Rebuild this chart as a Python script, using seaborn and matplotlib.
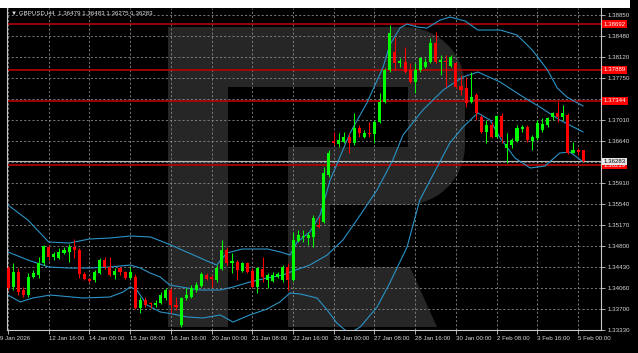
import numpy as np
import pandas as pd
import matplotlib
matplotlib.use("Agg")
import matplotlib.pyplot as plt
import matplotlib.transforms as mtransforms
from matplotlib.patches import Polygon, Rectangle
import seaborn as sns

# --------------------------
# GBPUSD H4 candles (oldest first)
# --------------------------
opens = [1.34416, 1.34083, 1.34346, 1.34031, 1.33943, 1.34259, 1.34294, 1.34504, 1.34784, 1.34609,
         1.34592, 1.34679, 1.34697, 1.34784, 1.34732, 1.34311, 1.34224, 1.34206, 1.34329, 1.34557,
         1.34434, 1.34294, 1.34416, 1.34346, 1.34241, 1.34259, 1.33716, 1.33856, 1.33803, 1.33768,
         1.33803, 1.33891, 1.34031, 1.33768, 1.33418, 1.33891, 1.33908, 1.34031, 1.34101, 1.34294,
         1.34259, 1.34206, 1.34399, 1.34732, 1.34504, 1.34521, 1.34364, 1.34504, 1.34364, 1.34083,
         1.34399, 1.34206, 1.34188, 1.34259, 1.34206, 1.34434, 1.34206, 1.34889, 1.34960, 1.34942,
         1.34960, 1.35170, 1.35223, 1.36046, 1.36642, 1.36589, 1.36624, 1.36712, 1.36607, 1.36870,
         1.36712, 1.36782, 1.36765, 1.36975, 1.37325, 1.37886, 1.38202, 1.38009, 1.38026, 1.37886,
         1.37676, 1.37886, 1.37939, 1.38026, 1.38359, 1.38026, 1.38044, 1.37956, 1.38009, 1.37606,
         1.37571, 1.37325, 1.37448, 1.37063, 1.36800, 1.36922, 1.36712, 1.37080, 1.36519, 1.36572,
         1.36642, 1.36852, 1.36887, 1.36642, 1.36694, 1.36835, 1.36922, 1.37063, 1.37133, 1.37063,
         1.37098, 1.36432, 1.36484, 1.36479]
highs = [1.34451, 1.34504, 1.34416, 1.34083, 1.34329, 1.34381, 1.34609, 1.34819, 1.34819, 1.34697,
         1.34767, 1.34784, 1.34837, 1.34925, 1.34767, 1.34346, 1.34241, 1.34381, 1.34592, 1.34609,
         1.34609, 1.34416, 1.34434, 1.34364, 1.34434, 1.34311, 1.33908, 1.33908, 1.33821, 1.33856,
         1.33996, 1.34066, 1.34066, 1.33908, 1.33908, 1.34066, 1.34118, 1.34171, 1.34346, 1.34329,
         1.34294, 1.34469, 1.34907, 1.34784, 1.34679, 1.34557, 1.34521, 1.34521, 1.34416, 1.34434,
         1.34609, 1.34329, 1.34346, 1.34346, 1.34469, 1.34504, 1.35047, 1.35083, 1.35083, 1.35047,
         1.35345, 1.35310, 1.36186, 1.36484, 1.36800, 1.36782, 1.36800, 1.36782, 1.37133, 1.36922,
         1.36835, 1.36975, 1.37010, 1.37483, 1.37921, 1.38675, 1.38464, 1.38096, 1.38289, 1.38009,
         1.38009, 1.38114, 1.38096, 1.38447, 1.38552, 1.38149, 1.38149, 1.38149, 1.38026, 1.37799,
         1.37764, 1.37851, 1.37483, 1.37098, 1.37010, 1.36975, 1.37098, 1.37133, 1.36782, 1.36694,
         1.36922, 1.36922, 1.36922, 1.36747, 1.37010, 1.37045, 1.37063, 1.37150, 1.37325, 1.37273,
         1.37133, 1.36624, 1.36519, 1.36483]
lows = [1.34031, 1.34031, 1.33943, 1.33908, 1.33908, 1.34241, 1.34241, 1.34469, 1.34557, 1.34557,
        1.34574, 1.34662, 1.34521, 1.34592, 1.34241, 1.34206, 1.34171, 1.34171, 1.34311, 1.34399,
        1.34276, 1.34224, 1.34294, 1.34224, 1.34224, 1.33698, 1.33628, 1.33733, 1.33716, 1.33733,
        1.33786, 1.33856, 1.33628, 1.33681, 1.33383, 1.33856, 1.33891, 1.33996, 1.34083, 1.34206,
        1.34083, 1.34171, 1.34381, 1.34469, 1.34329, 1.34206, 1.34346, 1.34329, 1.34066, 1.33978,
        1.34171, 1.34066, 1.34171, 1.34241, 1.34171, 1.34031, 1.34188, 1.34872, 1.34872, 1.34819,
        1.34784, 1.35118, 1.35205, 1.36011, 1.36572, 1.36537, 1.36607, 1.36432, 1.36572, 1.36712,
        1.36694, 1.36712, 1.36607, 1.36957, 1.37308, 1.37851, 1.37886, 1.37939, 1.37834, 1.37658,
        1.37483, 1.37851, 1.37921, 1.38009, 1.38009, 1.37799, 1.37588, 1.37939, 1.37571, 1.37448,
        1.37238, 1.37308, 1.37010, 1.36782, 1.36607, 1.36694, 1.36694, 1.36607, 1.36256, 1.36519,
        1.36624, 1.36800, 1.36624, 1.36484, 1.36659, 1.36800, 1.36887, 1.37010, 1.36975, 1.37010,
        1.36414, 1.36432, 1.36397, 1.36275]
closes = [1.34066, 1.34346, 1.33996, 1.33943, 1.34259, 1.34329, 1.34504, 1.34802, 1.34609, 1.34662,
          1.34697, 1.34732, 1.34784, 1.34732, 1.34311, 1.34224, 1.34188, 1.34346, 1.34557, 1.34434,
          1.34294, 1.34364, 1.34346, 1.34241, 1.34346, 1.33716, 1.33856, 1.33768, 1.33786, 1.33803,
          1.33943, 1.34031, 1.33768, 1.33733, 1.33891, 1.33943, 1.34066, 1.34118, 1.34311, 1.34224,
          1.34224, 1.34416, 1.34732, 1.34504, 1.34539, 1.34381, 1.34504, 1.34346, 1.34083, 1.34416,
          1.34259, 1.34294, 1.34294, 1.34311, 1.34434, 1.34206, 1.34907, 1.34995, 1.34977, 1.34995,
          1.35293, 1.35135, 1.36081, 1.36432, 1.36607, 1.36659, 1.36712, 1.36607, 1.36870, 1.36782,
          1.36782, 1.36765, 1.36975, 1.37325, 1.37886, 1.38535, 1.38009, 1.38044, 1.37851, 1.37676,
          1.37886, 1.38096, 1.38026, 1.38359, 1.38026, 1.38061, 1.38026, 1.38114, 1.37588, 1.37536,
          1.37308, 1.37413, 1.37133, 1.36800, 1.36922, 1.36712, 1.37080, 1.36712, 1.36589, 1.36659,
          1.36870, 1.36887, 1.36659, 1.36712, 1.36957, 1.36940, 1.37045, 1.37133, 1.37063, 1.37133,
          1.36432, 1.36484, 1.36449, 1.36283]

# --------------------------
# Bollinger bands, read at a few bars (bar index -> price)
# --------------------------
upper_bar = [0, 3.9, 8, 12, 16, 20, 24, 28, 32, 36, 40, 41, 43, 46, 51, 53.5, 55.4, 56.8, 59.3,
             61.3, 63.3, 67.2, 70.5, 73.7, 75, 77, 78.4, 80.4, 82.3, 84.9, 86.8, 89.8, 92.3,
             96.7, 100, 103, 106, 107.9, 109.8, 113]
upper_val = [1.35520, 1.35258, 1.34872, 1.34854, 1.34925, 1.34942, 1.34977, 1.34960, 1.34819,
             1.34662, 1.34504, 1.34469, 1.34679, 1.34749, 1.34749, 1.34697, 1.34644, 1.34872,
             1.35047, 1.35345, 1.35959, 1.36782, 1.37308, 1.37939, 1.38324, 1.38622, 1.38692,
             1.38640, 1.38622, 1.38762, 1.38815, 1.38745, 1.38587, 1.38587, 1.38500, 1.38237,
             1.37886, 1.37571, 1.37413, 1.37255]
middle_bar = [0, 3.9, 8, 12, 16, 20, 24, 26, 27.9, 29.9, 31.8, 35.2, 37.7, 41.7, 44.2, 47.5, 50.9,
              54, 56, 59.3, 62.7, 65.8, 69.2, 72.5, 75.6, 77.6, 81.5, 85.5, 89.4, 92.3, 96.7,
              100.6, 104.5, 108.4, 113]
middle_val = [1.34697, 1.34557, 1.34434, 1.34416, 1.34416, 1.34434, 1.34469, 1.34416, 1.34329,
              1.34259, 1.34118, 1.34066, 1.34031, 1.34031, 1.34083, 1.34171, 1.34241, 1.34294,
              1.34364, 1.34469, 1.34644, 1.34907, 1.35345, 1.35783, 1.36309, 1.36747, 1.37185,
              1.37536, 1.37764, 1.37851, 1.37676, 1.37448, 1.37238, 1.37010, 1.36800]
lower_bar = [0, 2.4, 4.9, 8.3, 14.7, 20, 22.6, 24, 25.3, 27.3, 29.9, 32.4, 35.2, 38.3, 41.7, 44.2,
             47.5, 50.9, 53.4, 55.4, 57.4, 60.7, 62.7, 64.6, 66.2, 67.2, 69.2, 72.5, 75, 78.4,
             80.9, 84.3, 86.8, 89.4, 92.3, 94.7, 96.7, 99.6, 102.6, 105.5, 108.4, 110.4, 113]
lower_val = [1.33943, 1.33821, 1.33891, 1.33943, 1.33891, 1.33908, 1.33996, 1.34083, 1.34031,
             1.33768, 1.33646, 1.33610, 1.33558, 1.33540, 1.33593, 1.33470, 1.33593, 1.33698,
             1.33821, 1.33978, 1.33961, 1.33891, 1.33681, 1.33453, 1.33330, 1.33278, 1.33383,
             1.33733, 1.34153, 1.34784, 1.35608, 1.36186, 1.36607, 1.36887, 1.37133, 1.37010,
             1.36694, 1.36344, 1.36169, 1.36204, 1.36432, 1.36449, 1.36274]

level_prices = [1.38692, 1.37889, 1.37344, 1.36219]
last_price = 1.36283
header = "\u25bc GBPUSD,H4  1.36479 1.36483 1.36275 1.36283"

ytick_values = [1.33330, 1.33700, 1.34060, 1.34430, 1.34800, 1.35170, 1.35540, 1.35910,
                1.36280, 1.36640, 1.37010, 1.37380, 1.37750, 1.38120, 1.38480, 1.38850]
ytick_hidden = [1.36280, 1.37380]
xtick_bars = [0, 8, 16, 24, 32, 40, 48, 56, 64, 72, 80, 88, 96, 104, 112]
xtick_labels = ["9 Jan 2026", "12 Jan 16:00", "14 Jan 00:00", "15 Jan 08:00", "16 Jan 16:00",
                "20 Jan 00:00", "21 Jan 08:00", "22 Jan 16:00", "26 Jan 00:00", "27 Jan 08:00",
                "28 Jan 16:00", "30 Jan 00:00", "2 Feb 08:00", "3 Feb 16:00", "5 Feb 00:00"]

# --------------------------
# build frames
# --------------------------
df = pd.DataFrame({"open": opens, "high": highs, "low": lows, "close": closes})
df["bar"] = np.arange(len(df))
df["up"] = df["close"] >= df["open"]
bands = pd.concat([
    pd.DataFrame({"bar": upper_bar, "price": upper_val, "band": "upper"}),
    pd.DataFrame({"bar": middle_bar, "price": middle_val, "band": "middle"}),
    pd.DataFrame({"bar": lower_bar, "price": lower_val, "band": "lower"}),
], ignore_index=True)

sns.set_theme(style="dark", rc={"axes.facecolor": "black", "figure.facecolor": "black"})
plt.rcParams["font.family"] = ["Liberation Sans", "DejaVu Sans"]

W, H = 638, 353
fig = plt.figure(figsize=(W / 100, H / 100), dpi=100, facecolor="black")
ax = fig.add_axes([7 / W, 23 / H, 594 / W, 322 / H])
ax.set_facecolor("black")

# white strip at very top
fig.patches.append(Rectangle((0, 1 - 8 / H), 630 / W, 8 / H, transform=fig.transFigure,
                             fc="white", ec="none", zorder=0))

# watermark "R" logo (pixel coords -> figure fraction)
def to_fig(pts):
    return [(x / W, 1 - y / H) for x, y in pts]

wm = "#262626"
t = np.linspace(0, np.pi / 2, 14)
top_arc = [(405 + 60 * np.sin(a), 87 - 60 * np.cos(a)) for a in t]
bot_arc = [(405 + 60 * np.cos(a), 145 + 60 * np.sin(a)) for a in t]
bowl = [(228, 27)] + top_arc + bot_arc + [(330, 205), (330, 267), (410, 267), (437, 327),
                                          (288, 327), (288, 147), (408, 147), (408, 87), (228, 87)]
ax.add_patch(Polygon(to_fig(bowl), closed=True, transform=fig.transFigure, fc=wm, ec="none", zorder=0.1))
ax.add_patch(Polygon(to_fig([(168, 27), (228, 27), (228, 327), (168, 327)]), closed=True,
                     transform=fig.transFigure, fc=wm, ec="none", zorder=0.1))

# grid
ax.grid(True, color="#8a8a8a", linestyle=(0, (2.5, 2.5)), linewidth=0.6)
ax.set_axisbelow(True)

# level lines + last price
for p in level_prices:
    ax.axhline(p, color="#c40000", lw=1.1, zorder=1)
ax.axhline(last_price, color="#b8b8b8", lw=0.8, zorder=1)

# bollinger bands
sns.lineplot(data=bands, x="bar", y="price", units="band", estimator=None, sort=True,
             color="#2a93c6", lw=0.8, ax=ax, zorder=2, legend=False)

# candles
col = np.where(df["up"], "#00ff00", "#ff0000")
ax.vlines(df["bar"], df["low"], df["high"], colors=col, lw=0.75, zorder=3)
body_lo = np.minimum(df["open"], df["close"])
body_h = np.maximum((df["open"] - df["close"]).abs(), 0.00012)
ax.bar(df["bar"], body_h, bottom=body_lo, width=0.6, color=col, lw=0, zorder=4)

# axes limits / ticks
ax.set_xlim(-0.2, 116.5)
ax.set_ylim(1.33330, 1.38973)
ax.set_xlabel("")
ax.set_ylabel("")
fs = 4.4
ax.set_xticks(xtick_bars, xtick_labels, ha="left")
ax.set_yticks(ytick_values, ["" if v in ytick_hidden else f"{v:.5f}" for v in ytick_values])
ax.yaxis.tick_right()
ax.tick_params(axis="y", right=True, left=False, length=3, width=0.6, color="#c8c8c8",
               labelcolor="#d8d8d8", labelsize=fs, pad=1.5)
ax.tick_params(axis="x", bottom=True, length=3, width=0.6, color="#c8c8c8",
               labelcolor="#d8d8d8", labelsize=fs, pad=1.5)
first = ax.get_xticklabels()[0]
first.set_transform(first.get_transform() + mtransforms.ScaledTranslation(-0.08, 0, fig.dpi_scale_trans))

for side in ["top"]:
    ax.spines[side].set_visible(False)
for side in ["right", "bottom", "left"]:
    ax.spines[side].set_color("#c8c8c8")
    ax.spines[side].set_linewidth(0.8)

# price labels on the right axis
lbl_tr = mtransforms.blended_transform_factory(ax.transAxes, ax.transData)
for p in level_prices:
    ax.text(1.0045, p, f"{p:.5f}", transform=lbl_tr, ha="left", va="center", fontsize=fs,
            color="white", clip_on=False, zorder=6,
            bbox=dict(boxstyle="square,pad=0.2", fc="#ff0000", ec="none"))
ax.text(1.0045, last_price, f"{last_price:.5f}", transform=lbl_tr, ha="left", va="center",
        fontsize=fs, color="black", clip_on=False, zorder=6,
        bbox=dict(boxstyle="square,pad=0.2", fc="#e8e8e8", ec="none"))

# header
ax.text(0.006, 0.984, header, transform=ax.transAxes, ha="left", va="center",
        fontsize=fs, color="#e0e0e0", zorder=7)

fig.savefig("out.png", dpi=100, facecolor="black")
